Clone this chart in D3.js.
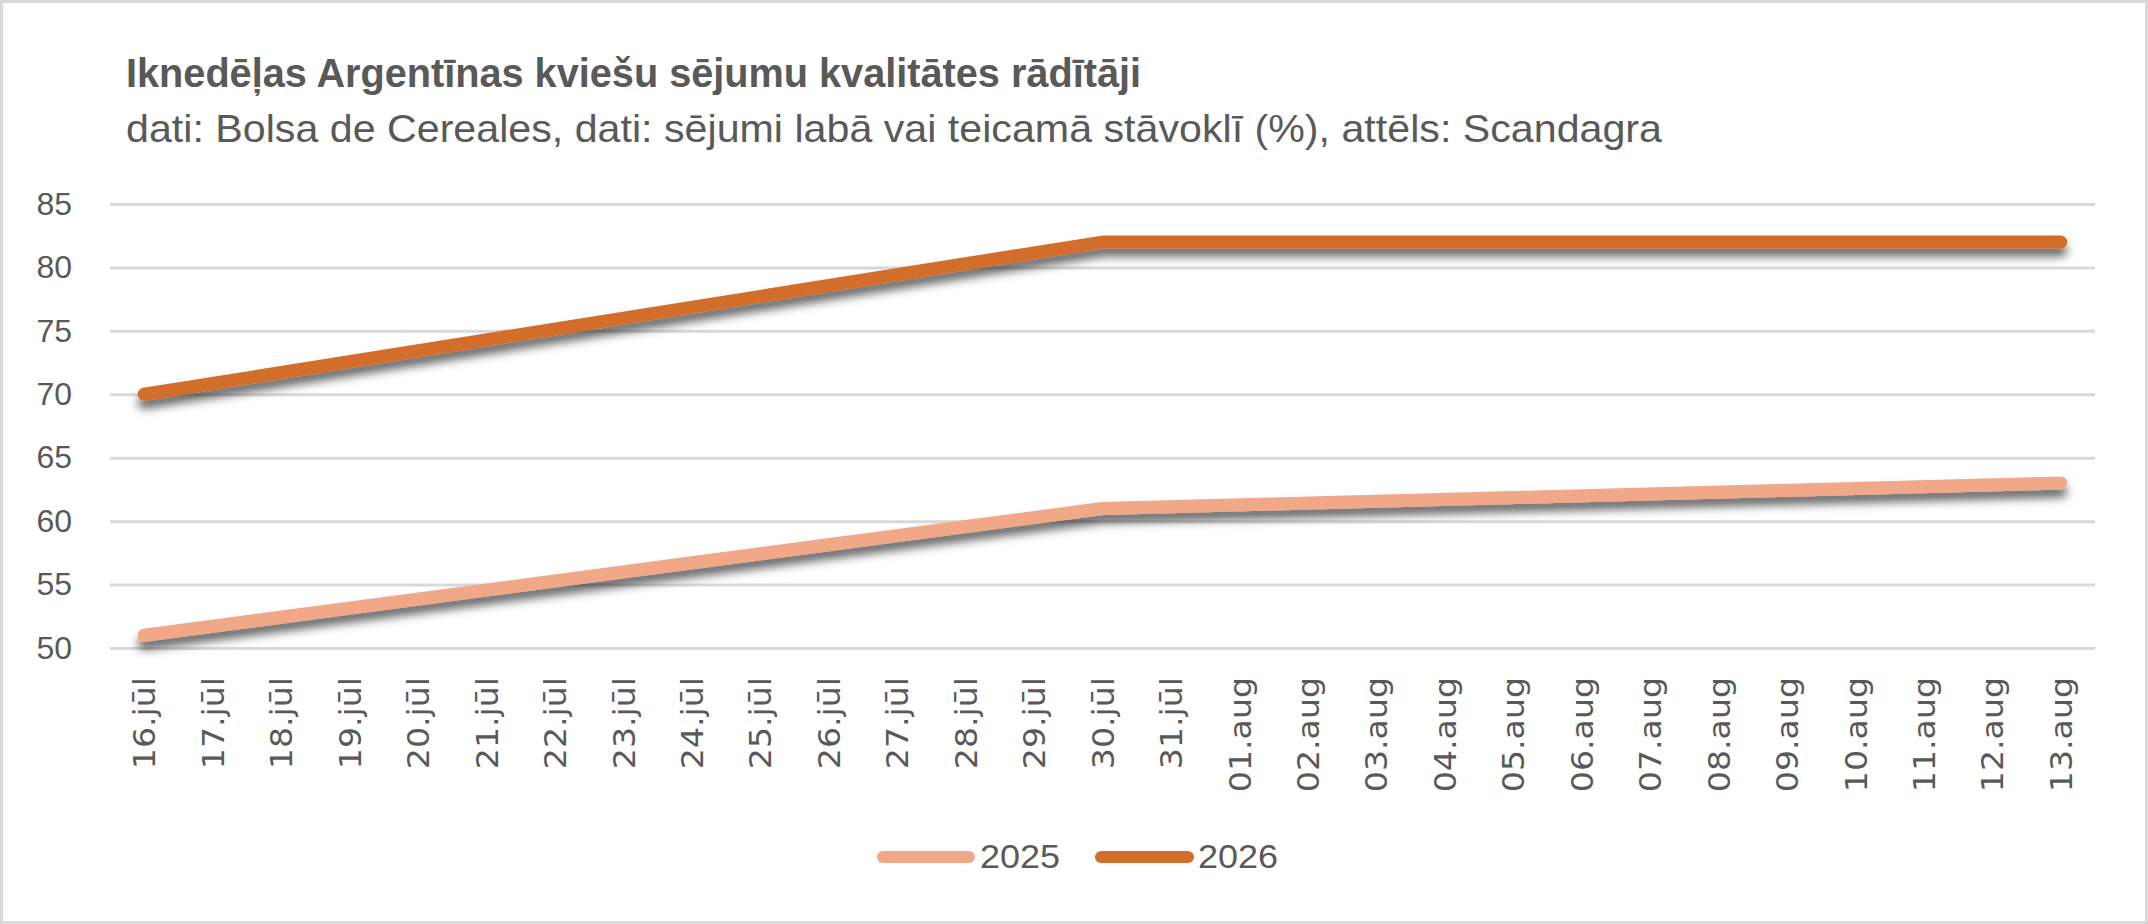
<!DOCTYPE html>
<html>
<head>
<meta charset="utf-8">
<script src="https://cdn.jsdelivr.net/npm/d3@7"></script>
<style>
  body { margin: 0; background: #fff; }
  text { fill: #595959; }
</style>
</head>
<body>
<div id="chart"></div>
<script>
// Category labels along the x axis (one per day)
var days = [
  "16.jūl", "17.jūl", "18.jūl", "19.jūl", "20.jūl", "21.jūl", "22.jūl",
  "23.jūl", "24.jūl", "25.jūl", "26.jūl", "27.jūl", "28.jūl", "29.jūl",
  "30.jūl", "31.jūl", "01.aug", "02.aug", "03.aug", "04.aug", "05.aug",
  "06.aug", "07.aug", "08.aug", "09.aug", "10.aug", "11.aug", "12.aug",
  "13.aug"
];

// Days that have a reported value
var reportDays = ["16.jūl", "30.jūl", "13.aug"];
var values2025 = [51, 61, 63];
var values2026 = [70, 82, 82];

var seriesNames = ["2025", "2026"];
var seriesColors = ["#F1A889", "#D26E2B"];

var yTicks = [50, 55, 60, 65, 70, 75, 80, 85];

var svgWidth = 2148;
var svgHeight = 924;

var plot = { left: 110, right: 2095, top: 204, bottom: 648 };

var svg = d3.select("#chart")
  .append("svg")
  .attr("width", svgWidth)
  .attr("height", svgHeight)
  .style("font-family", "'Liberation Sans', Arial, sans-serif");

// drop shadow like the Excel line effect
var defs = svg.append("defs");
defs.append("filter")
  .attr("id", "shadow")
  .attr("x", "-5%").attr("y", "-50%")
  .attr("width", "110%").attr("height", "200%")
  .append("feDropShadow")
  .attr("dx", 0).attr("dy", 8)
  .attr("stdDeviation", 5)
  .attr("flood-color", "#000")
  .attr("flood-opacity", 0.6);

// outer border
svg.append("rect")
  .attr("x", 1.5).attr("y", 1.5)
  .attr("width", svgWidth - 3).attr("height", svgHeight - 3)
  .attr("fill", "#fff")
  .attr("stroke", "#d9d9d9")
  .attr("stroke-width", 3);

// title + subtitle
svg.append("text")
  .attr("x", 126).attr("y", 87)
  .attr("font-size", 40)
  .attr("font-weight", "bold")
  .attr("textLength", 1015)
  .attr("lengthAdjust", "spacingAndGlyphs")
  .text("Iknedēļas Argentīnas kviešu sējumu kvalitātes rādītāji");

svg.append("text")
  .attr("x", 126).attr("y", 142)
  .attr("font-size", 39)
  .attr("textLength", 1536)
  .attr("lengthAdjust", "spacingAndGlyphs")
  .text("dati: Bolsa de Cereales, dati: sējumi labā vai teicamā stāvoklī (%), attēls: Scandagra");

var xScale = d3.scaleBand()
  .domain(days)
  .range([plot.left, plot.right])
  .padding(0);

var yScale = d3.scaleLinear()
  .domain([50, 85])
  .range([plot.bottom, plot.top]);

// y axis with gridlines
var leftAxis = d3.axisLeft(yScale)
  .tickValues(yTicks)
  .tickSize(-(plot.right - plot.left))
  .tickPadding(38);

var yAxisG = svg.append("g")
  .attr("transform", `translate(${plot.left}, 0)`)
  .call(leftAxis);

yAxisG.select(".domain").remove();
yAxisG.selectAll(".tick line")
  .attr("stroke", "#d9d9d9")
  .attr("stroke-width", 3);
yAxisG.selectAll(".tick text")
  .attr("font-size", 32)
  .attr("font-family", "'Liberation Sans', Arial, sans-serif")
  .attr("fill", "#595959");

// x axis labels, rotated
var bottomAxis = d3.axisBottom(xScale).tickSize(0);

var xAxisG = svg.append("g")
  .attr("transform", `translate(0, ${plot.bottom})`)
  .call(bottomAxis);

xAxisG.select(".domain").remove();
xAxisG.selectAll(".tick text")
  .attr("font-size", 31)
  .attr("font-family", "'DejaVu Sans', sans-serif")
  .attr("fill", "#595959")
  .attr("text-anchor", "end")
  .attr("transform", "rotate(-90)")
  .attr("x", -29)
  .attr("y", 0)
  .attr("dy", "0.36em")
  .each(function() {
    // the reference labels run a little longer than the font gives
    var len = this.getComputedTextLength();
    d3.select(this)
      .attr("textLength", len * 1.07)
      .attr("lengthAdjust", "spacingAndGlyphs");
  });

// lines
var line = d3.line()
  .x(function(d) { return xScale(d.day) + xScale.bandwidth() / 2; })
  .y(function(d) { return yScale(d.value); });

var seriesValues = [values2025, values2026];

seriesValues.forEach(function(vals, i) {
  var pts = reportDays.map(function(day, j) {
    return { day: day, value: vals[j] };
  });
  svg.append("path")
    .datum(pts)
    .attr("d", line)
    .attr("fill", "none")
    .attr("stroke", seriesColors[i])
    .attr("stroke-width", 13)
    .attr("stroke-linecap", "round")
    .attr("stroke-linejoin", "round")
    .attr("filter", "url(#shadow)");
});

// legend
var legendItems = [
  { x1: 877, x2: 975, tx: 980 },
  { x1: 1095, x2: 1194, tx: 1198 }
];

legendItems.forEach(function(item, i) {
  svg.append("line")
    .attr("x1", item.x1 + 6).attr("x2", item.x2 - 6)
    .attr("y1", 857).attr("y2", 857)
    .attr("stroke", seriesColors[i])
    .attr("stroke-width", 12)
    .attr("stroke-linecap", "round");
  svg.append("text")
    .attr("x", item.tx).attr("y", 868)
    .attr("font-size", 34)
    .attr("textLength", 80)
    .attr("lengthAdjust", "spacingAndGlyphs")
    .text(seriesNames[i]);
});
</script>
</body>
</html>
